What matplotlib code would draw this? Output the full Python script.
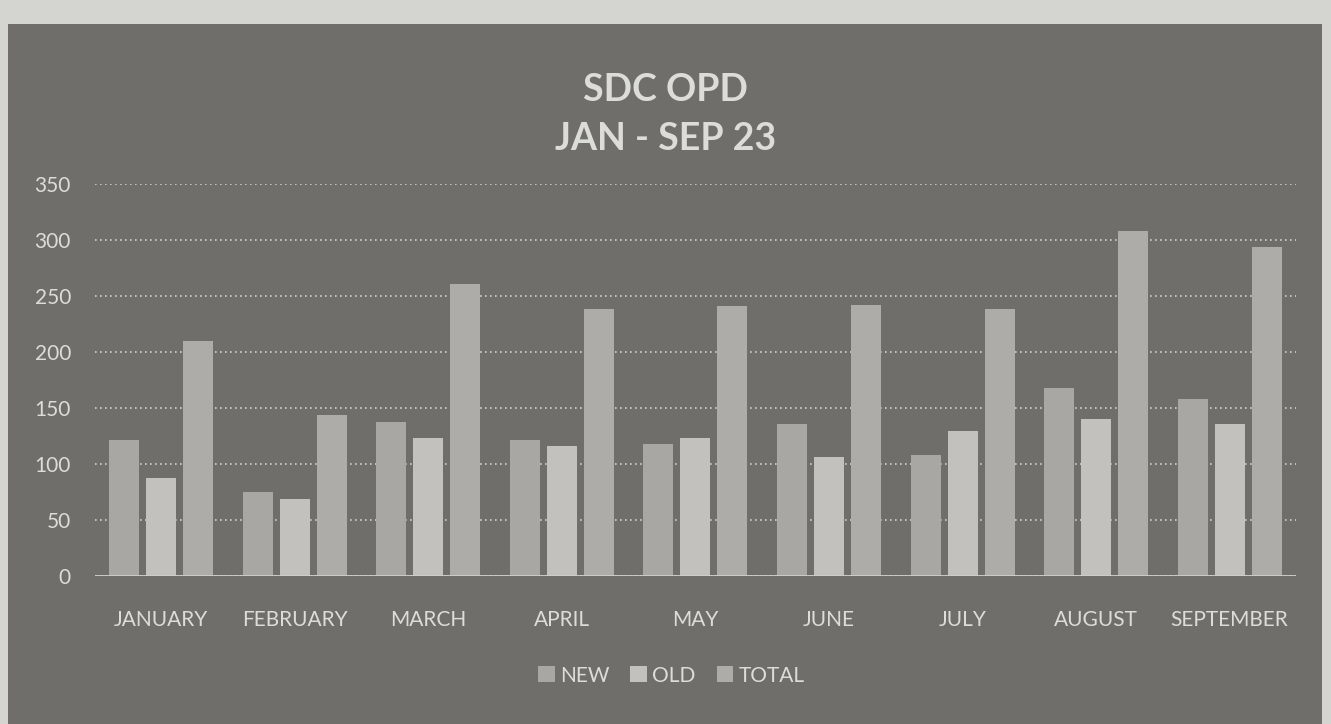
import numpy as np
import matplotlib.pyplot as plt
from matplotlib.patches import Rectangle

months = ['JANUARY', 'FEBRUARY', 'MARCH', 'APRIL', 'MAY', 'JUNE',
          'JULY', 'AUGUST', 'SEPTEMBER']
new = [122, 75, 138, 122, 118, 136, 108, 168, 158]
old = [88, 69, 123, 116, 123, 106, 130, 140, 136]
total = [210, 144, 261, 238, 241, 242, 238, 308, 294]

plt.rcParams['font.family'] = ['Lato', 'DejaVu Sans']

bg = '#6f6e6a'
txt = '#dcdcd8'

fig = plt.figure(figsize=(13.31, 7.24), dpi=100, facecolor='#d4d4d0')
# dark chart area (photo has a light margin on top and sides)
fig.patches.append(Rectangle((8 / 1331, 0), 1314 / 1331, 1 - 24 / 724,
                             transform=fig.transFigure, facecolor=bg,
                             edgecolor='none', zorder=-1))

ax = fig.add_axes([0.071, 0.204, 0.903, 0.542])
ax.set_facecolor('none')

x = np.arange(len(months))
w = 0.225
off = 0.277
ax.bar(x - off, new, w, color='#a8a7a3', label='NEW', zorder=3)
ax.bar(x, old, w, color='#c2c1bd', label='OLD', zorder=3)
ax.bar(x + off, total, w, color='#adaca8', label='TOTAL', zorder=3)

ax.set_ylim(0, 350)
ax.set_xlim(-0.5, len(months) - 0.5)
ax.set_yticks(range(0, 351, 50))
ax.set_xticks(x)
ax.set_xticklabels(months)
ax.tick_params(axis='both', length=0, colors=txt, labelsize=15)
ax.tick_params(axis='x', pad=24)
ax.tick_params(axis='y', pad=17)

ax.grid(axis='y', color='#d0d0cc', linestyle=(0, (1, 2)), linewidth=1.2, zorder=1)
ax.axhline(0, color='#cfcfcb', linewidth=2, zorder=4)
for s in ax.spines.values():
    s.set_visible(False)

fig.text(0.5, 0.876, 'SDC OPD', ha='center', va='center', fontsize=27,
         fontweight='bold', color=txt)
fig.text(0.5, 0.808, 'JAN - SEP 23', ha='center', va='center', fontsize=27,
         fontweight='bold', color=txt)

leg = ax.legend(loc='upper center', bbox_to_anchor=(0.48, -0.18), ncol=3,
                frameon=False, fontsize=15, handlelength=0.8, handleheight=0.8,
                handletextpad=0.25, columnspacing=1.0)
for t in leg.get_texts():
    t.set_color(txt)

fig.savefig('out.png', dpi=100, facecolor=fig.get_facecolor())
